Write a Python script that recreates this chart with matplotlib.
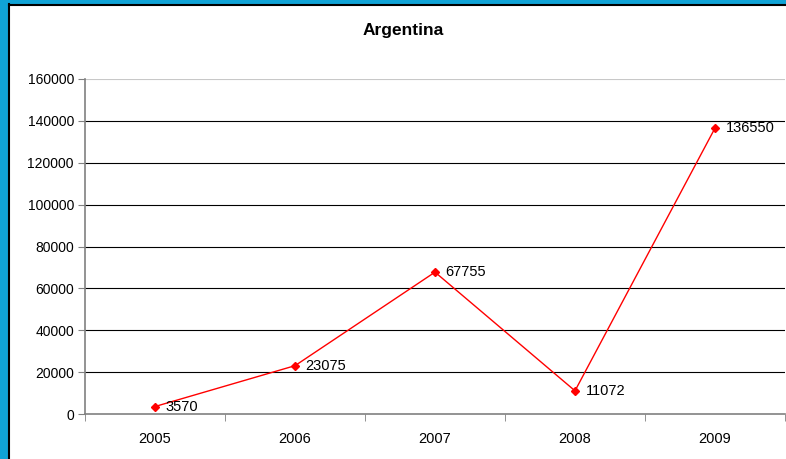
import matplotlib
matplotlib.use("Agg")
import matplotlib.pyplot as plt
from matplotlib.patches import Rectangle

years = ["2005", "2006", "2007", "2008", "2009"]
values = [3570, 23075, 67755, 11072, 136550]
yticks = [0, 20000, 40000, 60000, 80000, 100000, 120000, 140000, 160000]

plt.rcParams["font.family"] = ["Liberation Sans", "DejaVu Sans"]

W, H = 786, 459
fig = plt.figure(figsize=(W / 100, H / 100), dpi=100)

# slide frame: blue strips on the left and top, black edge line
blue = "#10a3d6"
fig.patches.append(Rectangle((0, 0), 8 / W, 1, transform=fig.transFigure, color=blue, zorder=0))
fig.patches.append(Rectangle((0, 1 - 4 / H), 1, 4 / H, transform=fig.transFigure, color=blue, zorder=0))
fig.lines.append(plt.Line2D([8.5 / W, 8.5 / W], [0, 1 - 4 / H], transform=fig.transFigure, color="black", lw=1.5))
fig.lines.append(plt.Line2D([8.5 / W, 1], [1 - 4.5 / H, 1 - 4.5 / H], transform=fig.transFigure, color="black", lw=1.5))

ax = fig.add_axes([85 / W, 45 / H, 700 / W, 335 / H])
x = list(range(len(years)))
ax.set_xlim(-0.5, len(years) - 0.5)
ax.set_ylim(0, 160000)

for t in yticks[1:]:
    c = "#c8c8c8" if t == 160000 else "black"
    ax.axhline(t, color=c, lw=0.8, zorder=1)

ax.plot(x, values, color="#ff0000", lw=1, marker="D", markersize=4.5, zorder=3)
for xi, v in zip(x, values):
    ax.annotate(str(v), (xi, v), xytext=(7.5, 0), textcoords="offset points",
                va="center", ha="left", fontsize=10.5)

ax.set_yticks(yticks)
ax.set_yticklabels([str(t) for t in yticks], fontsize=10)
ax.set_xticks(x)
ax.set_xticklabels(years, fontsize=10.5)
ax.set_xticks([i - 0.5 for i in range(len(years) + 1)], minor=True)
ax.tick_params(axis="x", which="major", length=0, pad=13)
ax.tick_params(axis="x", which="minor", length=5, color="#808080", direction="out")
ax.tick_params(axis="y", length=5, color="#808080", pad=3)

for s in ["top", "right"]:
    ax.spines[s].set_visible(False)
ax.spines["left"].set_color("#808080")
ax.spines["bottom"].set_color("#808080")
ax.spines["left"].set_linewidth(1.2)
ax.spines["bottom"].set_linewidth(1.2)

fig.text(403 / W, 1 - 31 / H, "Argentina", ha="center", va="center",
         fontsize=12.5, fontweight="bold")

fig.savefig("out.png", dpi=100)
